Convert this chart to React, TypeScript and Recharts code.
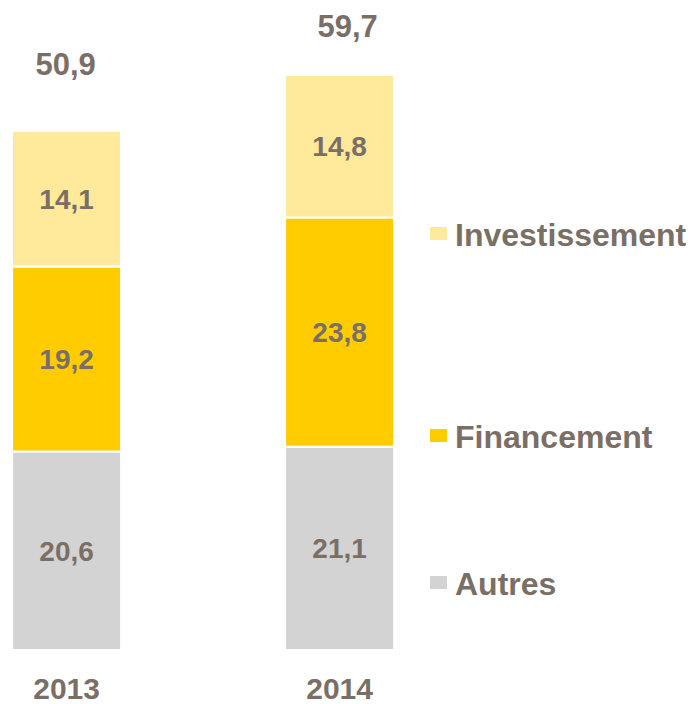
import { BarChart, Bar, XAxis, YAxis, LabelList } from "recharts";

const years = [2013, 2014];
const autres = [20.6, 21.1];
const financement = [19.2, 23.8];
const investissement = [14.1, 14.8];
const totals = [50.9, 59.7];

const data = years.map((year, i) => ({
  year,
  autres: autres[i],
  financement: financement[i],
  investissement: investissement[i],
  total: totals[i],
}));

const series = [
  { key: "autres", name: "Autres", color: "#D3D3D3", legendTop: 584 },
  { key: "financement", name: "Financement", color: "#FFCC00", legendTop: 437 },
  { key: "investissement", name: "Investissement", color: "#FFE99A", legendTop: 235 },
];

const TEXT = "#7A6F66";
const FONT = "'Liberation Sans', Arial, sans-serif";
const fmt = (v: any) => Number(v).toFixed(1).replace(".", ",");

// vertical offsets of the total labels above each bar, and small horizontal nudges
const totalLift = [56, 38];
const totalNudge = [-1, 8];

const TotalLabel = (props: any) => {
  const { x, y, width, index } = props;
  return (
    <text
      x={x + width / 2 + totalNudge[index]}
      y={y - totalLift[index]}
      textAnchor="middle"
      fill={TEXT}
      fontSize={31}
      fontWeight="bold"
      fontFamily={FONT}
    >
      {fmt(totals[index])}
    </text>
  );
};

const YearTick = ({ x, y, payload }: any) => (
  <text x={x} y={y + 49} textAnchor="middle" fill={TEXT} fontSize={30} fontWeight="bold" fontFamily={FONT}>
    {payload.value}
  </text>
);

const labelStyle = { fill: TEXT, fontSize: 28, fontWeight: "bold", fontFamily: FONT };

export default function App() {
  return (
    <div style={{ position: "absolute", left: 0, top: 0, width: 691, height: 704, background: "#fff" }}>
      <BarChart width={691} height={704} data={data} margin={{ top: 72, right: 0, bottom: 0, left: 0 }}>
        <XAxis
          dataKey="year"
          type="number"
          domain={[2012.756, 2015.287]}
          ticks={years}
          allowDataOverflow
          axisLine={false}
          tickLine={false}
          tickSize={0}
          tickMargin={0}
          height={54}
          tick={<YearTick />}
        />
        <YAxis hide domain={[0, 60]} />
        {series.map((s) => (
          <Bar
            key={s.key}
            dataKey={s.key}
            name={s.name}
            stackId="a"
            fill={s.color}
            stroke="#fff"
            strokeWidth={2}
            barSize={109}
            isAnimationActive={false}
          >
            <LabelList dataKey={s.key} position="center" formatter={fmt} style={labelStyle} />
            {s.key === "investissement" && <LabelList dataKey="total" content={<TotalLabel />} />}
          </Bar>
        ))}
      </BarChart>
      {series.map((s) => (
        <div
          key={s.key}
          style={{
            position: "absolute",
            left: 430,
            top: s.legendTop - 20,
            height: 40,
            display: "flex",
            alignItems: "center",
            fontFamily: FONT,
            fontWeight: "bold",
            fontSize: 32,
            color: TEXT,
            whiteSpace: "nowrap",
          }}
        >
          <span style={{ width: 17, height: 13, background: s.color, marginRight: 8, marginTop: -3 }} />
          {s.name}
        </div>
      ))}
    </div>
  );
}
